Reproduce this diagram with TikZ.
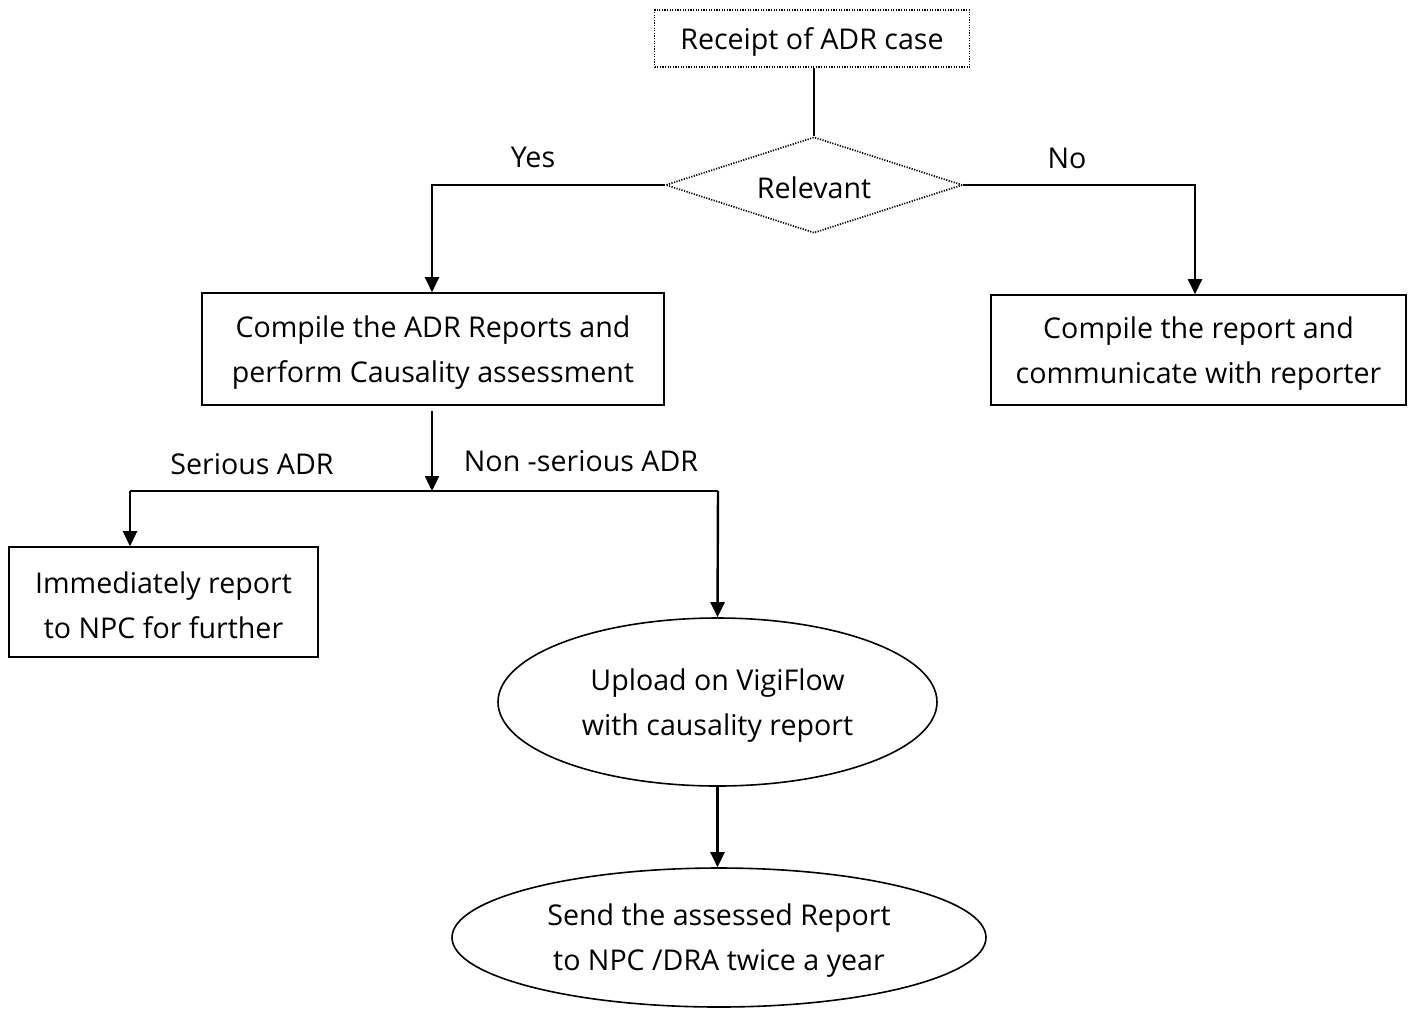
\documentclass[tikz,border=0pt]{standalone}
\usepackage{fontspec}
\setmainfont{Open Sans}
\usetikzlibrary{shapes.geometric,arrows.meta}
\newcommand{\lowr}{\rule{0pt}{14pt}}
\begin{document}
\begin{tikzpicture}[x=0.5pt,y=-0.5pt,
  every node/.style={font=\fontsize{14.3pt}{22.5pt}\selectfont, align=center, text=black},
  lower/.style={execute at begin node={\rule{0pt}{14pt}}},
  box/.style={draw, line width=0.8pt, inner sep=0pt},
  dotbox/.style={draw, line width=0.85pt, dash pattern=on 0.6pt off 0.7pt, inner sep=0pt, lower},
  ell/.style={draw, ellipse, line width=0.8pt, inner sep=0pt},
  conn/.style={line width=1.2pt},
  arr/.style={conn, -{Triangle[width=7pt,length=7.5pt]}},
  lbl/.style={inner sep=0pt}
]
\useasboundingbox (0,0) rectangle (1409,1009);

\node[dotbox, minimum width=157.5pt, minimum height=28.5pt] (rec) at (812,38.5) {Receipt of ADR case};
\node[dotbox, diamond, aspect=3.09, minimum width=148.5pt, minimum height=48pt] (rel) at (814,185) {Relevant};
\node[box, minimum width=231pt, minimum height=56pt] (comp) at (433,349) {\lowr Compile the ADR Reports and\\perform Causality assessment};
\node[box, minimum width=207.5pt, minimum height=55pt] (rep) at (1198.5,350) {\lowr Compile the report and\\communicate with reporter};
\node[box, minimum width=154.5pt, minimum height=55pt] (npc) at (163.5,602) {\lowr Immediately report\\to NPC for further};
\node[ell, minimum width=219.5pt, minimum height=84pt] (up) at (717.5,702) {\lowr Upload on VigiFlow\\with causality report};
\node[ell, minimum width=267pt, minimum height=69.5pt] (send) at (719,937.5) {\lowr Send the assessed Report\\to NPC /DRA twice a year};

\node[lbl] (yes) at (533,157) {Yes};
\node[lbl] (no) at (1067,158) {No};
\node[lbl] (ser) at (252,464) {Serious ADR};
\node[lbl] (nser) at (581,461) {Non -serious ADR};

\coordinate (j) at (432,491);
\coordinate (jl) at (130,491);
\coordinate (jr) at (718,491);

\draw[conn] (rec.south -| rel.north) -- (rel.north);
\draw[arr] (rel.west) -| (comp.north -| j);
\draw[arr] (rel.east) -| (rep.north -| 1195,0);
\draw[arr] ([yshift=-2.5pt]comp.south -| j) -- (j);
\draw[conn] (jl) -- (jr);
\draw[arr] (jl) -- (jl |- npc.north);
\draw[arr] (jr) -- (up.north);
\draw[arr] (up.south) -- (up.south |- send.north);
\end{tikzpicture}
\end{document}
